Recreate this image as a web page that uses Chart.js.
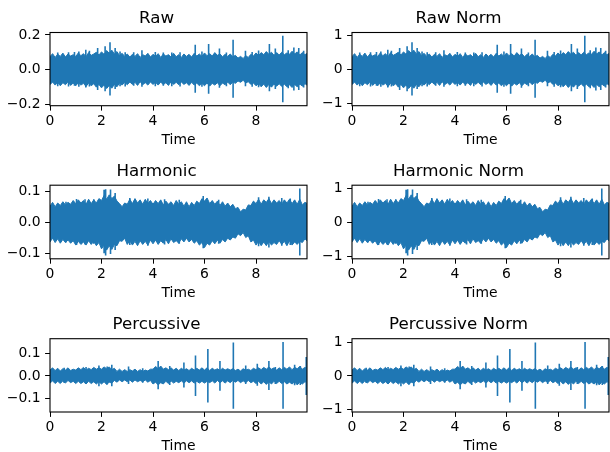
<!DOCTYPE html>
<html>
<head>
<meta charset="utf-8">
<script src="https://cdn.jsdelivr.net/npm/chart.js@4.4.0/dist/chart.umd.min.js"></script>
<style>
     html, body { margin: 0; padding: 0; background: #fff; overflow: hidden; width: 610px; height: 452px; }
     canvas { position: absolute; left: 0; top: 0; }
</style>
</head>
<body>
<canvas id="rawChart" width="610" height="480"></canvas>
<canvas id="rawNormChart" width="610" height="480"></canvas>
<canvas id="harmChart" width="610" height="480"></canvas>
<canvas id="harmNormChart" width="610" height="480"></canvas>
<canvas id="percChart" width="610" height="480"></canvas>
<canvas id="percNormChart" width="610" height="480"></canvas>
<script>

     var duration = 9.98;
     var binStep = 0.1;
     var xTicks = [0, 2, 4, 6, 8];
     var xTickLabels = ['0', '2', '4', '6', '8'];

     var titles = ['Raw', 'Raw Norm', 'Harmonic', 'Harmonic Norm', 'Percussive', 'Percussive Norm'];

     var smallTicks = [-0.2, 0, 0.2];
     var smallTickLabels = ['\u22120.2', '0.0', '0.2'];
     var tenthTicks = [-0.1, 0, 0.1];
     var tenthTickLabels = ['\u22120.1', '0.0', '0.1'];
     var normTicks = [-1, 0, 1];
     var normTickLabels = ['\u22121', '0', '1'];

     /**(((((((((((((((((((((((((((((((((((((( RAW SIGNAL (envelope every 0.1 s) )))))))))))))))))))))))))))))))))))))) */

     var rawUpper = [
          0.074, 0.092, 0.070, 0.089, 0.076, 0.095, 0.072, 0.090, 0.078, 0.086,
          0.076, 0.096, 0.080, 0.092, 0.074, 0.098, 0.082, 0.090, 0.100, 0.084,
          0.102, 0.088, 0.110, 0.094, 0.112, 0.090, 0.104, 0.080, 0.094, 0.076,
          0.090, 0.072, 0.088, 0.076, 0.092, 0.070, 0.086, 0.078, 0.094, 0.072,
          0.088, 0.076, 0.092, 0.070, 0.090, 0.078, 0.086, 0.072, 0.094, 0.074,
          0.086, 0.070, 0.090, 0.076, 0.088, 0.072, 0.094, 0.078, 0.090, 0.076,
          0.096, 0.080, 0.092, 0.078, 0.098, 0.082, 0.090, 0.074, 0.088, 0.076,
          0.090, 0.074, 0.082, 0.066, 0.076, 0.064, 0.080, 0.070, 0.088, 0.078,
          0.096, 0.080, 0.098, 0.086, 0.104, 0.088, 0.100, 0.082, 0.098, 0.084,
          0.100, 0.086, 0.096, 0.088, 0.106, 0.090, 0.102, 0.084, 0.098, 0.086,
          0.094
     ];
     var rawLower = [
          -0.088, -0.072, -0.090, -0.074, -0.094, -0.076, -0.088, -0.070, -0.092, -0.078,
          -0.094, -0.076, -0.090, -0.080, -0.098, -0.078, -0.094, -0.082, -0.102, -0.086,
          -0.106, -0.090, -0.110, -0.092, -0.108, -0.086, -0.100, -0.078, -0.090, -0.074,
          -0.088, -0.072, -0.086, -0.074, -0.092, -0.070, -0.088, -0.076, -0.090, -0.072,
          -0.086, -0.074, -0.090, -0.072, -0.088, -0.076, -0.092, -0.070, -0.086, -0.074,
          -0.088, -0.072, -0.086, -0.076, -0.092, -0.074, -0.090, -0.078, -0.094, -0.080,
          -0.094, -0.078, -0.096, -0.080, -0.090, -0.076, -0.094, -0.078, -0.088, -0.072,
          -0.088, -0.072, -0.080, -0.066, -0.074, -0.062, -0.078, -0.070, -0.086, -0.078,
          -0.094, -0.082, -0.100, -0.084, -0.104, -0.086, -0.102, -0.084, -0.096, -0.082,
          -0.098, -0.084, -0.100, -0.088, -0.104, -0.086, -0.100, -0.084, -0.096, -0.082,
          -0.092
     ];
     var rawSpikeTime   = [0.30, 0.72, 0.95, 1.12, 1.39, 1.53, 1.85, 2.14, 2.33, 2.53, 2.72, 2.92, 3.25, 3.57, 4.09, 4.40, 4.73, 5.05, 5.64, 5.90, 6.16, 6.58, 6.85, 7.11, 7.59, 7.85, 8.10, 8.52, 8.75, 9.04, 9.25, 9.47, 9.66, 9.85];
     var rawSpikeTop    = [0.098, 0.100, 0.102, 0.104, 0.114, 0.108, 0.125, 0.135, 0.158, 0.125, 0.104, 0.100, 0.100, 0.112, 0.102, 0.098, 0.098, 0.100, 0.144, 0.104, 0.148, 0.122, 0.098, 0.172, 0.108, 0.102, 0.110, 0.148, 0.122, 0.195, 0.112, 0.128, 0.124, 0.108];
     var rawSpikeBottom = [-0.096, -0.098, -0.094, -0.100, -0.104, -0.098, -0.118, -0.125, -0.150, -0.112, -0.096, -0.098, -0.094, -0.100, -0.096, -0.094, -0.096, -0.098, -0.134, -0.100, -0.140, -0.106, -0.096, -0.163, -0.096, -0.100, -0.102, -0.125, -0.112, -0.190, -0.108, -0.122, -0.118, -0.104];

     /**(((((((((((((((((((((((((((((((((((((( HARMONIC )))))))))))))))))))))))))))))))))))))) */

     var harmUpper = [
          0.052, 0.064, 0.050, 0.062, 0.054, 0.066, 0.056, 0.064, 0.058, 0.070,
          0.060, 0.072, 0.062, 0.070, 0.058, 0.074, 0.060, 0.072, 0.062, 0.076,
          0.070, 0.086, 0.074, 0.088, 0.076, 0.084, 0.068, 0.060, 0.050, 0.062,
          0.058, 0.074, 0.060, 0.076, 0.062, 0.072, 0.058, 0.074, 0.060, 0.070,
          0.058, 0.070, 0.060, 0.072, 0.056, 0.068, 0.058, 0.066, 0.054, 0.070,
          0.058, 0.066, 0.052, 0.066, 0.050, 0.064, 0.054, 0.068, 0.060, 0.076,
          0.068, 0.078, 0.060, 0.070, 0.058, 0.068, 0.054, 0.066, 0.052, 0.062,
          0.050, 0.058, 0.044, 0.048, 0.034, 0.042, 0.040, 0.056, 0.054, 0.068,
          0.060, 0.074, 0.058, 0.072, 0.064, 0.076, 0.060, 0.072, 0.062, 0.070,
          0.058, 0.072, 0.062, 0.074, 0.060, 0.072, 0.058, 0.074, 0.056, 0.064,
          0.060
     ];
     var harmLower = [
          -0.062, -0.050, -0.064, -0.052, -0.066, -0.054, -0.064, -0.056, -0.066, -0.058,
          -0.072, -0.060, -0.070, -0.062, -0.072, -0.058, -0.070, -0.060, -0.074, -0.064,
          -0.084, -0.072, -0.088, -0.074, -0.086, -0.070, -0.074, -0.058, -0.060, -0.050,
          -0.070, -0.058, -0.072, -0.060, -0.074, -0.058, -0.070, -0.060, -0.072, -0.056,
          -0.068, -0.056, -0.070, -0.058, -0.066, -0.054, -0.068, -0.052, -0.064, -0.058,
          -0.066, -0.052, -0.062, -0.050, -0.062, -0.054, -0.066, -0.058, -0.072, -0.064,
          -0.080, -0.066, -0.072, -0.058, -0.068, -0.056, -0.066, -0.054, -0.062, -0.050,
          -0.056, -0.046, -0.050, -0.036, -0.042, -0.032, -0.048, -0.042, -0.062, -0.056,
          -0.072, -0.060, -0.074, -0.062, -0.074, -0.060, -0.072, -0.064, -0.070, -0.058,
          -0.070, -0.060, -0.074, -0.058, -0.072, -0.062, -0.070, -0.060, -0.064, -0.052,
          -0.060
     ];
     var harmSpikeTime   = [0.62, 1.03, 1.36, 1.70, 2.10, 2.16, 2.35, 2.53, 3.10, 3.80, 4.45, 5.02, 5.95, 6.55, 8.10, 8.50, 9.00, 9.33, 9.70];
     var harmSpikeTop    = [0.066, 0.075, 0.074, 0.074, 0.104, 0.106, 0.105, 0.094, 0.078, 0.076, 0.074, 0.072, 0.084, 0.072, 0.080, 0.082, 0.078, 0.076, 0.108];
     var harmSpikeBottom = [-0.064, -0.072, -0.070, -0.068, -0.098, -0.105, -0.100, -0.088, -0.072, -0.074, -0.070, -0.068, -0.082, -0.068, -0.076, -0.080, -0.074, -0.072, -0.105];

     /**(((((((((((((((((((((((((((((((((((((( PERCUSSIVE )))))))))))))))))))))))))))))))))))))) */

     var percUpper = [
          0.026, 0.036, 0.024, 0.034, 0.022, 0.032, 0.026, 0.036, 0.024, 0.030,
          0.026, 0.036, 0.028, 0.038, 0.026, 0.034, 0.028, 0.038, 0.030, 0.036,
          0.030, 0.040, 0.032, 0.040, 0.028, 0.034, 0.020, 0.030, 0.020, 0.028,
          0.020, 0.028, 0.022, 0.030, 0.020, 0.028, 0.020, 0.026, 0.022, 0.030,
          0.030, 0.042, 0.032, 0.044, 0.030, 0.036, 0.028, 0.036, 0.026, 0.034,
          0.024, 0.034, 0.026, 0.032, 0.024, 0.034, 0.026, 0.034, 0.026, 0.036,
          0.026, 0.036, 0.024, 0.034, 0.026, 0.032, 0.024, 0.034, 0.026, 0.032,
          0.026, 0.032, 0.024, 0.030, 0.022, 0.032, 0.026, 0.030, 0.024, 0.034,
          0.028, 0.036, 0.028, 0.038, 0.030, 0.040, 0.030, 0.036, 0.026, 0.036,
          0.028, 0.038, 0.030, 0.040, 0.028, 0.038, 0.032, 0.042, 0.030, 0.038,
          0.032
     ];
     var percLower = [
          -0.032, -0.022, -0.034, -0.024, -0.034, -0.022, -0.032, -0.020, -0.030, -0.024,
          -0.034, -0.024, -0.034, -0.026, -0.036, -0.024, -0.034, -0.026, -0.036, -0.026,
          -0.036, -0.026, -0.038, -0.028, -0.032, -0.020, -0.028, -0.018, -0.026, -0.018,
          -0.026, -0.018, -0.028, -0.018, -0.026, -0.020, -0.026, -0.018, -0.028, -0.020,
          -0.036, -0.028, -0.040, -0.030, -0.036, -0.024, -0.034, -0.022, -0.032, -0.024,
          -0.030, -0.022, -0.032, -0.022, -0.030, -0.022, -0.032, -0.024, -0.032, -0.024,
          -0.032, -0.024, -0.030, -0.022, -0.032, -0.020, -0.030, -0.022, -0.032, -0.022,
          -0.030, -0.020, -0.028, -0.020, -0.030, -0.022, -0.030, -0.020, -0.030, -0.024,
          -0.034, -0.024, -0.036, -0.026, -0.038, -0.026, -0.036, -0.024, -0.034, -0.024,
          -0.034, -0.026, -0.036, -0.028, -0.036, -0.026, -0.040, -0.028, -0.036, -0.026,
          -0.030
     ];
     var percSpikeTime   = [0.55, 1.40, 1.90, 2.22, 2.40, 3.05, 3.60, 4.20, 4.65, 5.20, 5.65, 6.13, 6.60, 7.12, 7.60, 8.05, 8.50, 8.75, 9.05, 9.50, 9.72, 9.95];
     var percSpikeTop    = [0.036, 0.040, 0.046, 0.042, 0.050, 0.042, 0.034, 0.066, 0.044, 0.060, 0.091, 0.120, 0.067, 0.149, 0.046, 0.054, 0.067, 0.040, 0.151, 0.050, 0.044, 0.084];
     var percSpikeBottom = [-0.032, -0.036, -0.046, -0.038, -0.046, -0.036, -0.030, -0.060, -0.040, -0.052, -0.090, -0.118, -0.066, -0.146, -0.036, -0.044, -0.063, -0.036, -0.146, -0.042, -0.040, -0.085];


     /**(((((((((((((((((((((((((((((((((((((( LAYOUT / STYLE )))))))))))))))))))))))))))))))))))))) */

     var blue = '#1f77b4';
     var canvasW = 610, canvasH = 480;
     var yAxisWidth = 44, xAxisHeight = 45, titleHeight = 24.04;
     var leftCol = [50, 307], rightCol = [352, 609];
     var rows = [[32.5, 105.7], [185.2, 258.8], [338.7, 412]];

     Chart.defaults.font.family = 'DejaVu Sans';
     Chart.defaults.color = '#000';

     var frameBox = {
          id: 'frameBox',
          afterDraw: function(chart){
               var a = chart.chartArea, c = chart.ctx;
               c.save();
               c.strokeStyle = '#000';
               c.lineWidth = 1.1;
               c.strokeRect(a.left, a.top, a.right - a.left, a.bottom - a.top);
               c.restore();
          }
     };

     function envelopePoints(values) {
          return values.map(function(v, i){ return {x: +(i * binStep).toFixed(2), y: v}; });
     }

     function spikePoints(times, tops, bottoms) {
          var pts = [];
          times.forEach(function(t, i){
               pts.push({x: t, y: tops[i]}, {x: t, y: bottoms[i]}, {x: t, y: null});
          });
          return pts;
     }

     function peakOf(lists) {
          var m = 0;
          lists.forEach(function(l){ l.forEach(function(v){ m = Math.max(m, Math.abs(v)); }); });
          return m;
     }

     function scaled(values, peak) {
          return values.map(function(v){ return v / peak; });
     }

     // matplotlib style 5% margins around the data
     function autoLimits(lists) {
          var lo = Infinity, hi = -Infinity;
          lists.forEach(function(l){ l.forEach(function(v){ lo = Math.min(lo, v); hi = Math.max(hi, v); }); });
          var m = (hi - lo) * 0.05;
          return [lo - m, hi + m];
     }

     function waveChart(idName, title, upper, lower, sTime, sTop, sBottom, yTicks, yLabels, col, row) {

          const ctx = document.getElementById(idName).getContext('2d');
          var lim = autoLimits([upper, lower, sTop, sBottom]);

          new Chart(ctx, {
               type: 'line',
               data: {
                    datasets: [
                         {
                              data: envelopePoints(upper),
                              borderColor: blue,
                              backgroundColor: blue,
                              borderWidth: 1,
                              pointRadius: 0,
                              tension: 0,
                              fill: '+1',
                         },
                         {
                              data: envelopePoints(lower),
                              borderColor: blue,
                              borderWidth: 1,
                              pointRadius: 0,
                              tension: 0,
                              fill: false,
                         },
                         {
                              data: spikePoints(sTime, sTop, sBottom),
                              borderColor: blue,
                              borderWidth: 1.6,
                              pointRadius: 0,
                              spanGaps: false,
                              fill: false,
                         }
                    ]
               },
               options: {
                    responsive: false,
                    animation: false,
                    devicePixelRatio: 1,
                    layout: {
                         padding: {
                              left: col[0] - yAxisWidth,
                              right: canvasW - col[1],
                              top: row[0] - titleHeight,
                              bottom: canvasH - row[1] - xAxisHeight
                         }
                    },
                    plugins: {
                         legend: false,
                         tooltip: { enabled: false },
                         title: {
                              display: true,
                              text: title,
                              color: '#000',
                              font: { size: 16.7, weight: 'normal', lineHeight: 1.2 },
                              padding: { top: 0, bottom: 4 }
                         }
                    },
                    scales: {
                         x: {
                              type: 'linear',
                              min: 0,
                              max: duration,
                              afterBuildTicks: function(s){ s.ticks = xTicks.map(function(v){ return {value: v}; }); },
                              afterFit: function(s){ s.height = xAxisHeight; },
                              border: { display: false },
                              grid: { drawOnChartArea: false, drawTicks: true, tickLength: 4.9, color: '#000', lineWidth: 1 },
                              ticks: {
                                   padding: 2,
                                   maxRotation: 0,
                                   autoSkip: false,
                                   font: { size: 13.9 },
                                   callback: function(v, i){ return xTickLabels[i]; }
                              },
                              title: {
                                   display: true,
                                   text: 'Time',
                                   color: '#000',
                                   font: { size: 13.9, lineHeight: 1.2 },
                                   padding: { top: 0, bottom: 2 }
                              }
                         },
                         y: {
                              type: 'linear',
                              min: lim[0],
                              max: lim[1],
                              afterBuildTicks: function(s){ s.ticks = yTicks.map(function(v){ return {value: v}; }); },
                              afterFit: function(s){ s.width = yAxisWidth; },
                              border: { display: false },
                              grid: { drawOnChartArea: false, drawTicks: true, tickLength: 4.9, color: '#000', lineWidth: 1 },
                              ticks: {
                                   padding: 4.5,
                                   autoSkip: false,
                                   font: { size: 13.9 },
                                   callback: function(v, i){ return yLabels[i]; }
                              }
                         }
                    }
               },
               plugins: [frameBox]
          });
     }

     // raw
     waveChart('rawChart', titles[0], rawUpper, rawLower, rawSpikeTime, rawSpikeTop, rawSpikeBottom,
               smallTicks, smallTickLabels, leftCol, rows[0]);
     var rawPeak = peakOf([rawUpper, rawLower, rawSpikeTop, rawSpikeBottom]);
     waveChart('rawNormChart', titles[1], scaled(rawUpper, rawPeak), scaled(rawLower, rawPeak), rawSpikeTime,
               scaled(rawSpikeTop, rawPeak), scaled(rawSpikeBottom, rawPeak), normTicks, normTickLabels, rightCol, rows[0]);

     // harmonic
     waveChart('harmChart', titles[2], harmUpper, harmLower, harmSpikeTime, harmSpikeTop, harmSpikeBottom,
               tenthTicks, tenthTickLabels, leftCol, rows[1]);
     var harmPeak = peakOf([harmUpper, harmLower, harmSpikeTop, harmSpikeBottom]);
     waveChart('harmNormChart', titles[3], scaled(harmUpper, harmPeak), scaled(harmLower, harmPeak), harmSpikeTime,
               scaled(harmSpikeTop, harmPeak), scaled(harmSpikeBottom, harmPeak), normTicks, normTickLabels, rightCol, rows[1]);

     // percussive
     waveChart('percChart', titles[4], percUpper, percLower, percSpikeTime, percSpikeTop, percSpikeBottom,
               tenthTicks, tenthTickLabels, leftCol, rows[2]);
     var percPeak = peakOf([percUpper, percLower, percSpikeTop, percSpikeBottom]);
     waveChart('percNormChart', titles[5], scaled(percUpper, percPeak), scaled(percLower, percPeak), percSpikeTime,
               scaled(percSpikeTop, percPeak), scaled(percSpikeBottom, percPeak), normTicks, normTickLabels, rightCol, rows[2]);

</script>
</body>
</html>
